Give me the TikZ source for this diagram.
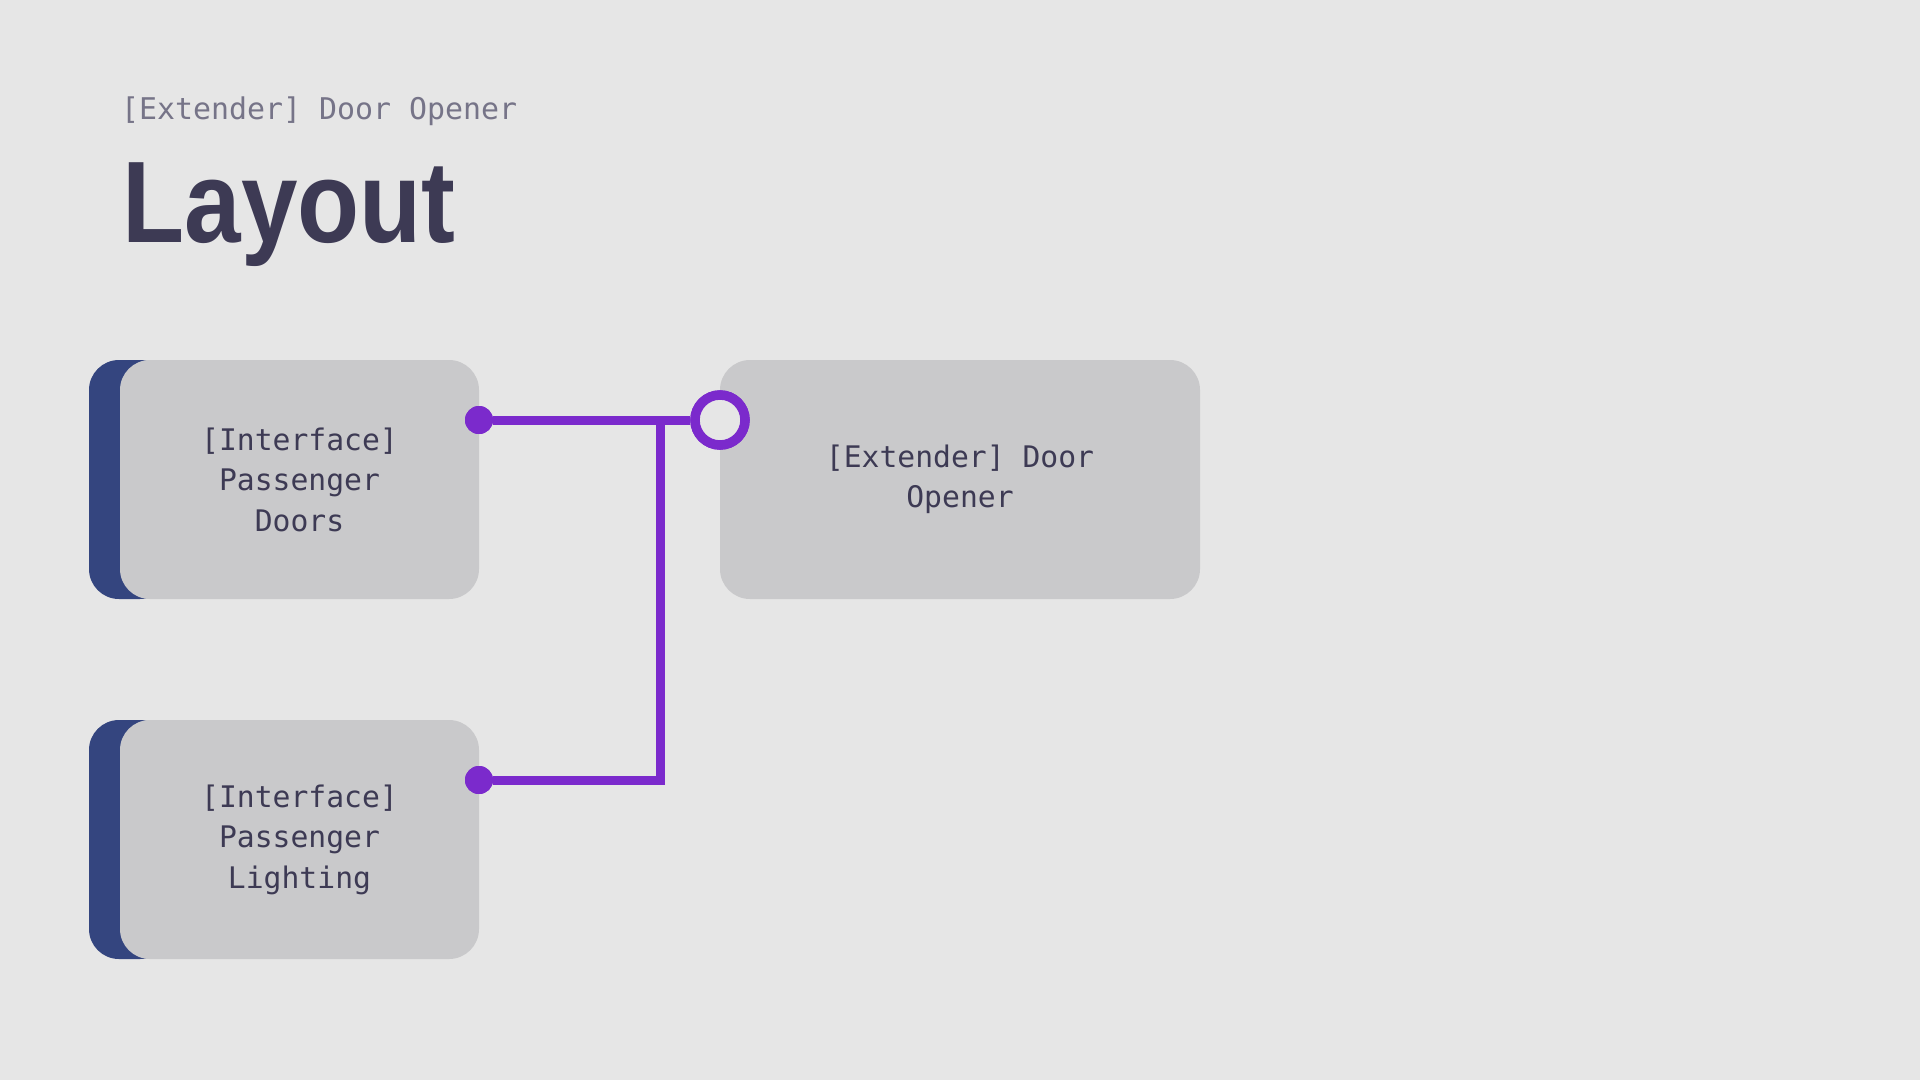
\documentclass[tikz,border=0pt]{standalone}
\usepackage{fontspec}
\newfontfamily\monof{DejaVu Sans Mono}
\newfontfamily\titlef[FakeStretch=0.876]{Liberation Sans}
\definecolor{bgc}{HTML}{E6E6E6}
\definecolor{boxc}{HTML}{C9C9CB}
\definecolor{barc}{HTML}{34457F}
\definecolor{wirec}{HTML}{7B2ACC}
\definecolor{txtc}{HTML}{3D3A54}
\definecolor{subc}{HTML}{767488}
\tikzset{
  card/.style={fill=boxc, draw=none, rounded corners=30pt, minimum width=359pt, minimum height=239pt,
    align=center, text=txtc, inner sep=0pt, font=\monof\fontsize{29.7}{40.5}\selectfont},
  wcard/.style={card, minimum width=480pt},
  bar/.style={fill=barc, rounded corners=30pt},
  wire/.style={draw=wirec, line width=9pt, line join=miter},
  pin/.style={circle, fill=wirec, draw=none, inner sep=0pt, minimum size=28pt},
  ring/.style={circle, fill=bgc, draw=wirec, line width=9.5pt, inner sep=0pt, minimum size=50pt}
}
\begin{document}
\begin{tikzpicture}[x=1pt,y=-1pt]
\useasboundingbox (0,0) rectangle (1920,1080);
\fill[bgc] (0,0) rectangle (1920,1080);

\node[anchor=base west, text=subc, inner sep=0pt, font=\monof\fontsize{29.9}{36}\selectfont] (sub) at (121,119) {[Extender] Door Opener};
\node[anchor=base west, text=txtc, inner sep=0pt, font=\titlef\bfseries\fontsize{116}{130}\selectfont] (title) at (122.5,242) {Layout};

\fill[bar] (89,360) rectangle (170,599);
\fill[bar] (89,720) rectangle (170,959);
\node[card] (doors) at (299.5,479.5) {[Interface]\\Passenger\\Doors};
\node[card] (light) at (299.5,839.5) {[Interface]\\Passenger\\Lighting};
\node[wcard] (ext) at (960,479.5) {[Extender] Door\\Opener};

\node[pin] (d1) at (479,420) {};
\node[pin] (d2) at (479,780) {};
\node[ring] (r) at (720,420) {};
\coordinate (j) at (660,420);

\draw[wire] (d1) -- (r);
\draw[wire] (d2) -| (j);
\node[ring] at (r) {};
\node[pin] at (d1) {};
\node[pin] at (d2) {};
\end{tikzpicture}
\end{document}
